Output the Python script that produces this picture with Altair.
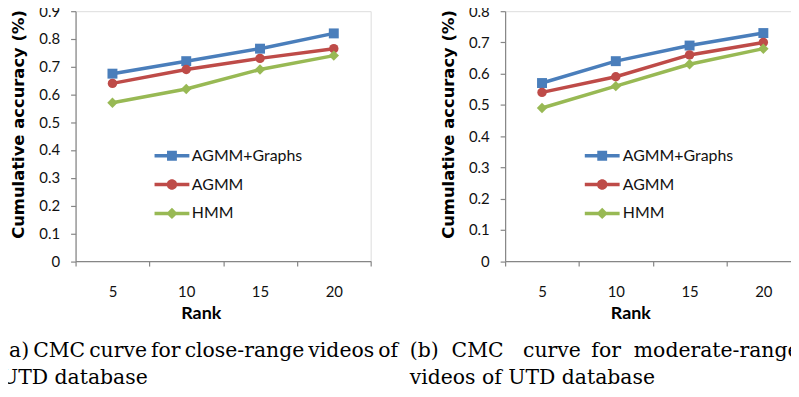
import altair as alt
import pandas as pd

# ---------------- data ----------------
ranks = ["5", "10", "15", "20"]
series = ["AGMM+Graphs", "AGMM", "HMM"]
colors = ["#4A7EBB", "#BE4B48", "#98B954"]
marker_shapes = ["square", "circle", "diamond"]
marker_sizes = [100, 90, 110]

close_agmm_graphs = [0.675, 0.72, 0.765, 0.82]
close_agmm = [0.64, 0.69, 0.73, 0.765]
close_hmm = [0.57, 0.62, 0.69, 0.74]

moderate_agmm_graphs = [0.57, 0.64, 0.69, 0.73]
moderate_agmm = [0.54, 0.59, 0.66, 0.70]
moderate_hmm = [0.49, 0.56, 0.63, 0.68]

yticks_close = [0, 0.1, 0.2, 0.3, 0.4, 0.5, 0.6, 0.7, 0.8, 0.9]
yticks_moderate = [0, 0.1, 0.2, 0.3, 0.4, 0.5, 0.6, 0.7, 0.8]

TS = "\u2009"  # thin space
NB = "\u00a0"  # non-breaking space
caption_a = [TS.join("(a) CMC curve for close-range videos of".split(" ")), "UTD database"]
caption_b = ["(b)" + NB * 2 + "CMC" + NB * 3 + "curve" + NB + TS + "for" + NB * 2 + "moderate-range",
             "videos of UTD database"]

y_title = "Cumulative accuracy (%)"
x_title = "Rank"

# legend symbols: a line segment with the marker on it (unit square -1..1)
legend_paths = [
    "M-2.19,-0.22L2.19,-0.22L2.19,0.22L-2.19,0.22Z M-0.62,-0.62L0.62,-0.62L0.62,0.62L-0.62,0.62Z",
    "M-2.19,-0.22L2.19,-0.22L2.19,0.22L-2.19,0.22Z M-0.66,0A0.66,0.66 0 1,1 0.66,0A0.66,0.66 0 1,1 -0.66,0Z",
    "M-2.19,-0.22L2.19,-0.22L2.19,0.22L-2.19,0.22Z M0,-0.72L0.72,0L0,0.72L-0.72,0Z",
]


def make_df(vals):
    rows = []
    for s, v in zip(series, vals):
        for r, y in zip(ranks, v):
            rows.append({"rank": r, "series": s, "value": y})
    return pd.DataFrame(rows)


df_close = make_df([close_agmm_graphs, close_agmm, close_hmm])
df_moderate = make_df([moderate_agmm_graphs, moderate_agmm, moderate_hmm])

AX = "#868686"


def panel(df, ymax, yticks, caption, cap_dx, legend_x, label_offset):
    x = alt.X(
        "rank:O", sort=ranks, bandPosition=0.5,
        scale=alt.Scale(type="band", paddingInner=0, paddingOuter=0),
        axis=alt.Axis(
            title=x_title, tickBand="extent", labelAngle=0,
            domainColor=AX, tickColor=AX, tickSize=5, domainWidth=1.2, tickWidth=1.2,
            labelFont="Lato", labelFontSize=15, labelColor="#111",
            labelBaseline="alphabetic", labelPadding=31,
            titleFont="Lato", titleFontSize=18, titleFontWeight="bold", titleColor="#000",
            titleX=126, titleY=58, titleBaseline="alphabetic", titleAlign="center",
        ),
    )
    y = alt.Y(
        "value:Q",
        scale=alt.Scale(domain=[0, ymax], nice=False, zero=True),
        axis=alt.Axis(
            title=y_title, values=yticks, format=".1~f", grid=False,
            domainColor=AX, tickColor=AX, tickSize=5, domainWidth=1.2, tickWidth=1.2,
            labelFont="Lato", labelFontSize=15, labelColor="#111", labelPadding=11,
            titleFont="DejaVu Sans", titleFontSize=16.5, titleFontWeight="bold", titleColor="#000",
            titleAngle=270, titleX=-57, titleY=113.5, titleBaseline="middle", titleAlign="center",
        ),
    )
    base = alt.Chart(df)
    layers = []
    for s, c in zip(series, colors):
        layers.append(
            base.transform_filter(alt.datum.series == s)
            .mark_line(strokeWidth=3.5, color=c)
            .encode(x=x, y=y)
        )
    for s, c, shp, sz in zip(series, colors, marker_shapes, marker_sizes):
        layers.append(
            base.transform_filter(alt.datum.series == s)
            .mark_point(filled=True, opacity=1, shape=shp, size=sz, color=c)
            .encode(x=x, y=y)
        )
    leg = alt.Legend(
        title=None, orient="none", legendX=legend_x, legendY=137.5,
        labelFont="Lato", labelFontSize=16, labelColor="#111",
        symbolSize=256, symbolStrokeWidth=0, symbolOpacity=1,
        rowPadding=13, labelOffset=label_offset, padding=0, offset=0,
    )
    cscale = alt.Scale(domain=series, range=colors)
    legend_layer = base.mark_point(filled=True, opacity=0).encode(
        x=x, y=y,
        color=alt.Color("series:N", scale=cscale, legend=leg),
        shape=alt.Shape("series:N", scale=alt.Scale(domain=series, range=legend_paths), legend=leg),
    )
    layers.append(legend_layer)
    return alt.layer(*layers).properties(
        width=297, height=251.5,
        title=alt.TitleParams(
            text=caption, orient="bottom", anchor="start", frame="group",
            dx=cap_dx, offset=19, font="DejaVu Serif", fontSize=20.5,
            fontWeight="normal", color="#000", lineHeight=26.5,
        ),
    )


left = panel(df_close, 0.9, yticks_close, caption_a, -75, 89, 12)
right = panel(df_moderate, 0.8, yticks_moderate, caption_b, -96, 89.7, 12.7)

chart = (
    alt.hconcat(left, right, spacing=135.3, bounds="flush")
    .resolve_scale(color="independent", shape="independent")
    .properties(padding={"left": -8, "top": -6, "right": -11, "bottom": -4})
    .configure_view(stroke=None)
    .configure(background="white")
)

chart.save("out.html", embed_options={"renderer": "svg", "actions": False})
